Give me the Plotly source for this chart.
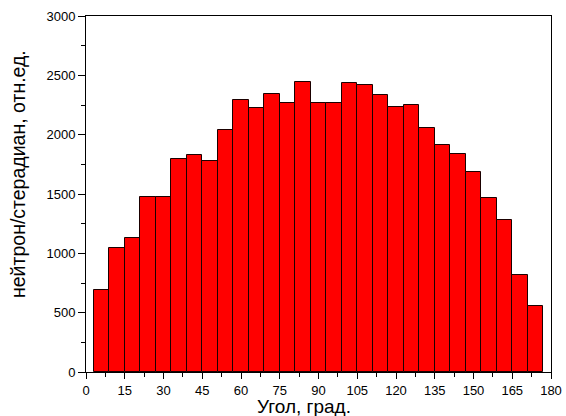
import plotly.graph_objects as go

# Bin centres (degrees) and values
angles = [6, 12, 18, 24, 30, 36, 42, 48, 54, 60, 66, 72, 78, 84, 90,
          96, 102, 108, 114, 120, 126, 132, 138, 144, 150, 156, 162, 168, 174]
counts = [693, 1045, 1129, 1474, 1476, 1795, 1831, 1775, 2039, 2293, 2227, 2345, 2269, 2446, 2264,
          2269, 2432, 2418, 2331, 2233, 2252, 2053, 1910, 1834, 1687, 1466, 1278, 817, 559]
bin_width = 6
x_ticks = list(range(0, 181, 15))
y_ticks = list(range(0, 3001, 500))

font_family = "Liberation Sans, Arial, sans-serif"

fig = go.Figure(go.Bar(
    x=angles, y=counts, width=bin_width,
    marker=dict(color="#FF0000", line=dict(color="#1a0000", width=1)),
))

fig.update_layout(
    width=566, height=416,
    margin=dict(l=86, r=4, t=16, b=44),
    paper_bgcolor="white", plot_bgcolor="white",
    showlegend=False,
    font=dict(family=font_family, size=13, color="black"),
    bargap=0,
)
fig.update_xaxes(
    range=[0, 180], tickvals=x_ticks, ticktext=[str(v) for v in x_ticks],
    ticks="outside", ticklen=6, tickwidth=1, tickcolor="black",
    minor=dict(dtick=7.5, tick0=0, ticks="outside", ticklen=4, tickcolor="black"),
    showline=True, linecolor="black", linewidth=1, mirror=True,
    showgrid=False, zeroline=False,
    tickfont=dict(size=13), ticklabeloverflow="allow",
)
fig.update_yaxes(
    range=[0, 3000], tickvals=y_ticks,
    ticks="outside", ticklen=7, tickwidth=1, tickcolor="black",
    minor=dict(dtick=250, tick0=0, ticks="outside", ticklen=4, tickcolor="black"),
    showline=True, linecolor="black", linewidth=1, mirror=True,
    showgrid=False, zeroline=False,
    tickfont=dict(size=13), ticklabeloverflow="allow",
)
fig.add_annotation(text="Угол, град.", xref="paper", yref="paper",
                   x=0.5, xshift=-15, y=0, yshift=-34.5, xanchor="center", yanchor="middle",
                   showarrow=False, font=dict(size=19, family=font_family))
fig.add_annotation(text="нейтрон/стерадиан, отн.ед.", xref="paper", yref="paper",
                   x=0, xshift=-68, y=0.5, yshift=20, xanchor="center", yanchor="middle",
                   textangle=-90,
                   showarrow=False, font=dict(size=19.5, family=font_family))

fig.write_html("out.html", config={"displayModeBar": False},
               post_script="document.body.style.margin='0';document.body.style.overflow='hidden';")
